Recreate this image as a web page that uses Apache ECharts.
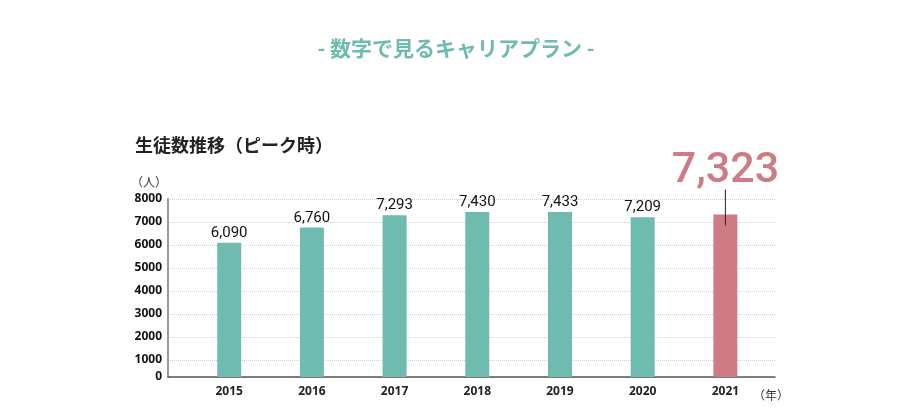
<!DOCTYPE html>
<html>
<head>
<meta charset="utf-8">
<title>生徒数推移</title>
<script src="https://cdn.jsdelivr.net/npm/echarts@6/dist/echarts.min.js"></script>
<style>
  html, body { margin: 0; padding: 0; background: #fff; }
  #chart { width: 912px; height: 418px; }
</style>
</head>
<body>
<div id="chart"></div>
<script>
// データ
const years = ['2015', '2016', '2017', '2018', '2019', '2020', '2021']
const students = [6090, 6760, 7293, 7430, 7433, 7209, 7323]
const yTicks = [250, 1000, 2000, 3000, 4000, 5000, 6000, 7000, 8000] // 250 = 軸の底（表示は 0）
const peakIndex = 6

const teal = '#6fbbb0'
const rose = '#cf7b83'
const cjk = '"Noto Sans CJK JP", "Noto Sans", sans-serif'

const barData = students.map((v, i) => {
  const item = { value: [i, v] }
  if (i === peakIndex) {
    item.itemStyle = { color: rose }
    item.label = {
      fontSize: 43,
      fontWeight: 500,
      color: rose,
      distance: 22,
    }
  }
  return item
})

const chart = echarts.init(document.getElementById('chart'))

chart.setOption({
  animation: false,
  title: [
    {
      text: '- 数字で見るキャリアプラン -',
      left: 'center',
      top: 33,
      textStyle: { fontFamily: cjk, fontSize: 21, fontWeight: 'bold', color: teal },
    },
    {
      text: '生徒数推移（ピーク時）',
      left: 130,
      top: 131,
      textStyle: { fontFamily: cjk, fontSize: 18, fontWeight: 'bold', color: '#222' },
    },
    {
      text: '（人）',
      left: 126,
      top: 171,
      textStyle: { fontFamily: cjk, fontSize: 12, fontWeight: 'normal', color: '#333' },
    },
    {
      text: '（年）',
      left: 748,
      top: 384,
      textStyle: { fontFamily: cjk, fontSize: 12, fontWeight: 'normal', color: '#333' },
    },
  ],
  grid: { left: 168, right: 137, top: 199, bottom: 41 },
  xAxis: {
    type: 'value',
    min: -0.74,
    max: 6.6,
    splitLine: { show: false },
    axisTick: { show: false },
    axisLine: { onZero: false, lineStyle: { color: '#555', width: 1.5 } },
    axisLabel: {
      customValues: years.map((y, i) => i),
      formatter: (v) => years[v] || '',
      margin: 9,
      fontFamily: '"Noto Sans", sans-serif',
      fontWeight: 'bold',
      fontSize: 12,
      color: '#222',
    },
  },
  yAxis: {
    type: 'value',
    min: 250,
    max: 8000,
    axisLine: { show: true, onZero: false, lineStyle: { color: '#999', width: 2 } },
    axisTick: { show: false, customValues: yTicks },
    splitLine: { show: true, lineStyle: { type: 'dotted', color: '#cfcfcf', width: 1 } },
    axisLabel: {
      customValues: yTicks,
      formatter: (v) => (v === 250 ? '0' : String(v)),
      margin: 6,
      fontFamily: '"Noto Sans", sans-serif',
      fontWeight: 'bold',
      fontSize: 12,
      color: '#111',
    },
  },
  series: [
    {
      type: 'bar',
      data: barData,
      barWidth: 24,
      itemStyle: { color: teal },
      label: {
        show: true,
        position: 'top',
        distance: 2,
        fontFamily: 'Roboto, sans-serif',
        fontWeight: 400,
        fontSize: 15,
        color: '#111',
        formatter: (p) => p.value[1].toLocaleString('en-US'),
      },
    },
    {
      // ピーク値の引き出し線
      type: 'custom',
      data: [[peakIndex, students[peakIndex]]],
      renderItem: (params, api) => {
        const c = api.coord([api.value(0), api.value(1)])
        return {
          type: 'line',
          shape: { x1: c[0], y1: c[1] - 25, x2: c[0], y2: c[1] + 11 },
          style: { stroke: '#222', lineWidth: 1 },
        }
      },
      z: 5,
    },
  ],
})
</script>
</body>
</html>
